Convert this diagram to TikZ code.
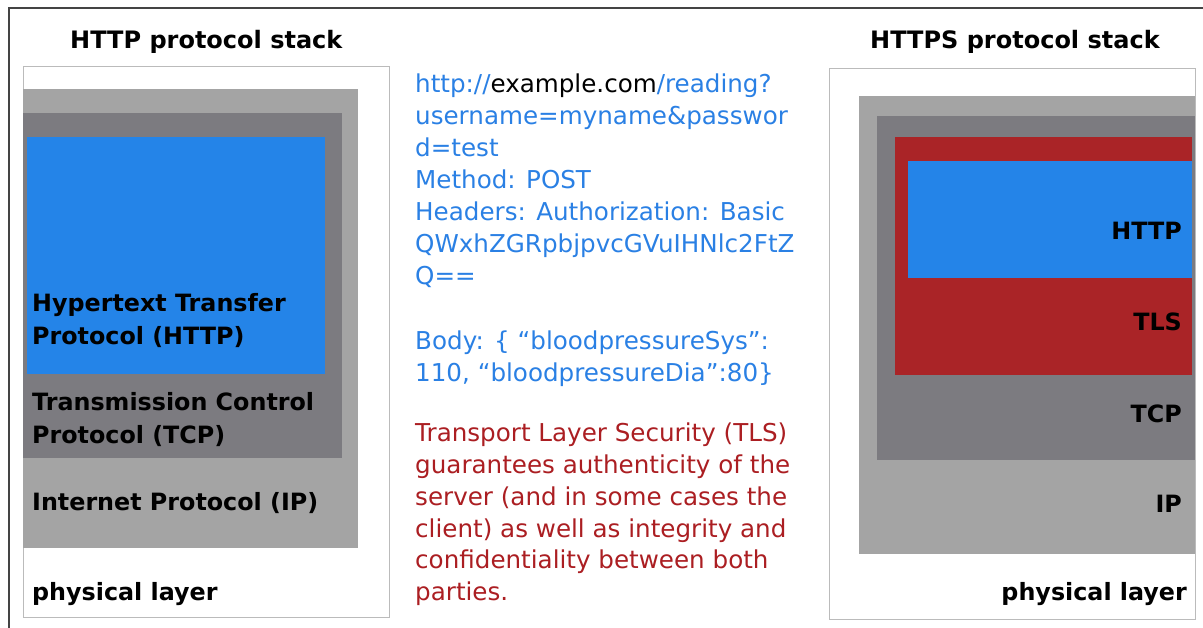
\documentclass[tikz,border=0pt]{standalone}
\usepackage{fontspec}
\setmainfont{DejaVu Sans}
\definecolor{httpblue}{HTML}{2484E8}
\definecolor{txtblue}{HTML}{2A80E4}
\definecolor{tlsred}{HTML}{AA2427}
\definecolor{txtred}{HTML}{AB1E22}
\definecolor{ipgray}{HTML}{A4A4A4}
\definecolor{tcpgray}{HTML}{7C7B80}
\definecolor{edgegray}{HTML}{BBBBBB}
\definecolor{framegray}{HTML}{444444}
\tikzset{
  layer/.style={anchor=north west, inner sep=0pt, outer sep=0pt},
  stackbox/.style={draw=edgegray, line width=1pt, fill=white},
  title/.style={anchor=base west, inner sep=0pt, font=\fontsize{24}{28}\selectfont\bfseries},
  lbl/.style={anchor=base west, inner sep=0pt, font=\fontsize{23.8}{28}\selectfont\bfseries},
  rlbl/.style={anchor=base east, inner sep=0pt, font=\fontsize{23.8}{28}\selectfont\bfseries},
  msg/.style={anchor=base west, inner sep=0pt, font=\fontsize{24.6}{28}\selectfont, text=txtblue},
  note/.style={anchor=base west, inner sep=0pt, font=\fontsize{24.6}{28}\selectfont, text=txtred},
}
\begin{document}
\begin{tikzpicture}[x=1pt,y=-1pt]
\useasboundingbox (0,0) rectangle (1203,628);
% page frame, running off the right and bottom edges
\draw[framegray, line width=1.5pt] (9,640) -- (9,8) -- (1215,8);

% ---------- HTTP stack ----------
\node[title] (t1) at (70,49) {HTTP protocol stack};
\draw[stackbox] (23,67) rectangle (389,617);
\node[layer, fill=ipgray, minimum width=335pt, minimum height=459pt] (ip1) at (23,89) {};
\node[layer, fill=tcpgray, minimum width=319pt, minimum height=345pt] (tcp1) at (23,113) {};
\node[layer, fill=httpblue, minimum width=298pt, minimum height=237pt] (http1) at (27,137) {};
\node[lbl] (h1a) at (32,312) {Hypertext Transfer};
\node[lbl] (h1b) at (32,345) {Protocol (HTTP)};
\node[lbl] (c1a) at (32,411) {Transmission Control};
\node[lbl] (c1b) at (32,443) {Protocol (TCP)};
\node[lbl] (i1) at (32,510) {Internet Protocol (IP)};
\node[lbl] (p1) at (32,600) {physical layer};

% ---------- request and note ----------
\node[msg] (m1) at (415,93) {http://\textcolor{black}{example.com}/reading?};
\node[msg] (m2) at (415,125) {username=myname\&passwor};
\node[msg] (m3) at (415,157) {d=test};
\node[msg] (m4) at (415,189) {Method: POST};
\node[msg] (m5) at (415,221) {Headers: Authorization: Basic};
\node[msg] (m6) at (415,253) {QWxhZGRpbjpvcGVuIHNlc2FtZ};
\node[msg] (m7) at (415,285) {Q==};
\node[msg] (m8) at (415,350) {Body: \{ “bloodpressureSys”:};
\node[msg] (m9) at (415,382) {110, “bloodpressureDia”:80\}};
\node[note] (n1) at (415,442) {Transport Layer Security (TLS)};
\node[note] (n2) at (415,473) {guarantees authenticity of the};
\node[note] (n3) at (415,505) {server (and in some cases the};
\node[note] (n4) at (415,537) {client) as well as integrity and};
\node[note] (n5) at (415,568) {confidentiality between both};
\node[note] (n6) at (415,600) {parties.};

% ---------- HTTPS stack ----------
\node[title] (t2) at (870,49) {HTTPS protocol stack};
\draw[stackbox] (829,69) rectangle (1195,619);
\node[layer, fill=ipgray, minimum width=336pt, minimum height=458pt] (ip2) at (859,96) {};
\node[layer, fill=tcpgray, minimum width=318pt, minimum height=344pt] (tcp2) at (877,116) {};
\node[layer, fill=tlsred, minimum width=297pt, minimum height=238pt] (tls2) at (895,137) {};
\node[layer, fill=httpblue, minimum width=284pt, minimum height=117pt] (http2) at (908,161) {};
\node[rlbl] (h2) at (1182,240) {HTTP};
\node[rlbl] (s2) at (1182,331) {TLS};
\node[rlbl] (c2) at (1182,422) {TCP};
\node[rlbl] (i2) at (1182,512) {IP};
\node[rlbl] (p2) at (1187,600) {physical layer};
\end{tikzpicture}
\end{document}
